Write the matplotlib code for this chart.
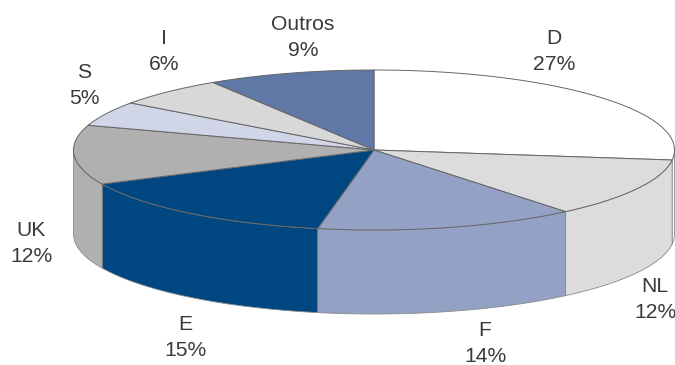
import numpy as np
import matplotlib
matplotlib.use('Agg')
import matplotlib.pyplot as plt
from matplotlib.patches import Polygon

# participacao por pais, em %, a partir do topo no sentido horario
paises = ['D', 'NL', 'F', 'E', 'UK', 'S', 'I', 'Outros']
valores = [27, 12, 14, 15, 12, 5, 6, 9]
cores = ['#ffffff', '#dcdcdc', '#93a1c4', '#004680', '#b0b0b0', '#d0d6e8', '#d8d8d8', '#5f78a6']

# posicao dos rotulos (centro do nome), em pixels
pos_rotulos = [(554, 38), (655, 286), (485, 331), (185, 324), (31, 231), (84, 72), (164, 39), (303, 24)]

# geometria do disco
cx, cy = 374, 150
rx, ry = 300.5, 80
altura = 84
linha = '#666666'

plt.rcParams['font.family'] = ['Liberation Sans', 'DejaVu Sans']

fig = plt.figure(figsize=(6.75, 3.65), dpi=100)
ax = fig.add_axes([0, 0, 1, 1])
ax.set_xlim(0, 675)
ax.set_ylim(365, 0)
ax.axis('off')


def arco(a0, a1, dy=0):
    # angulos em graus a partir das 3 horas, sentido horario na tela
    t = np.radians(np.linspace(a0, a1, 120))
    return np.column_stack([cx + rx * np.cos(t), cy + dy + ry * np.sin(t)])


# limites das fatias em graus
acum = np.concatenate([[0], np.cumsum(valores)])
inicio = -90 + acum[:-1] * 3.6
fim = -90 + acum[1:] * 3.6

# parede lateral: so a parte da frente (0 a 180 graus) fica visivel
for a0, a1, cor in zip(inicio, fim, cores):
    v0, v1 = max(a0, 0), min(a1, 180)
    if v1 <= v0:
        continue
    cima = arco(v0, v1)
    baixo = arco(v0, v1, altura)[::-1]
    ax.add_patch(Polygon(np.vstack([cima, baixo]), closed=True, facecolor=cor,
                         edgecolor='#8a8a8a', linewidth=0.6, zorder=2))

# tampo do disco
for a0, a1, cor in zip(inicio, fim, cores):
    pts = np.vstack([[cx, cy], arco(a0, a1)])
    ax.add_patch(Polygon(pts, closed=True, facecolor=cor, edgecolor=linha,
                         linewidth=0.7, joinstyle='round', zorder=3))

# rotulos: nome em cima, percentual embaixo
for nome, v, (x, y) in zip(paises, valores, pos_rotulos):
    gap = 25 if nome == 'F' else 26
    ax.text(x, y, nome, ha='center', va='center', fontsize=15.2, color='#3a3a3a')
    ax.text(x, y + gap, f'{v}%', ha='center', va='center', fontsize=15.2, color='#3a3a3a')

fig.savefig('out.png', dpi=100)
plt.close(fig)
